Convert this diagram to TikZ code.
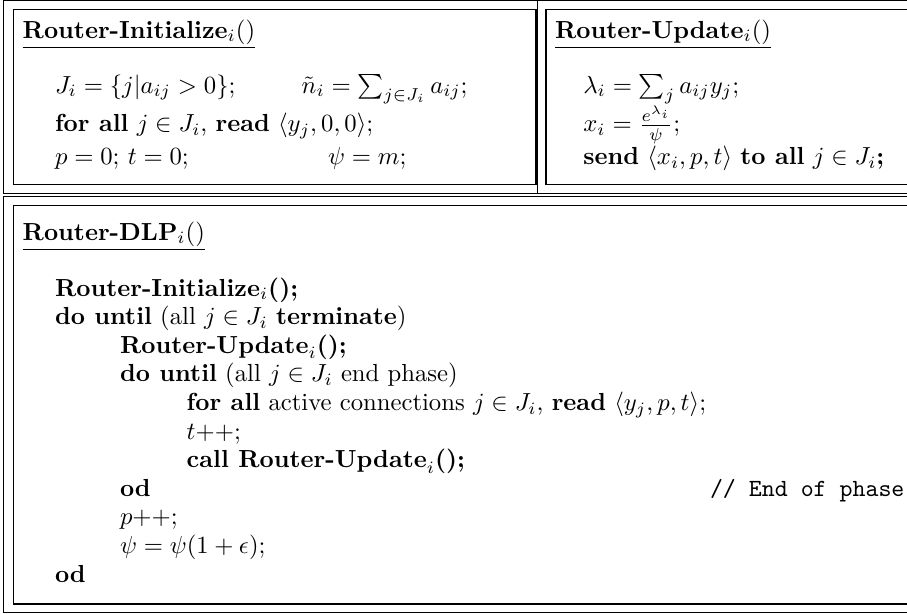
\documentclass[tikz,border=0pt]{standalone}
\usepackage{amsmath}
\begin{document}
\begin{tikzpicture}[x=0.405pt, y=-0.405pt,
  frame/.style={draw=black, line width=0.45pt},
  txt/.style={anchor=base west, inner sep=0pt, outer sep=0pt}]
\clip (0,0) rectangle (907,613);
\useasboundingbox (0,0) rectangle (907,613);

% outer frames
\draw[frame] (3.5,0.6) rectangle (930,193.3);
\draw[frame] (537.7,0.6) -- (537.7,193.3);
\draw[frame] (3.5,196.7) rectangle (930,612.4);
% inner boxes
\draw[frame] (13.3,9.5) rectangle (536,184.3);
\draw[frame] (546,9.5) rectangle (930,184.3);
\draw[frame] (13.3,205.7) rectangle (930,604);

% Router-Initialize
\node[txt] (initT) at (22.7,38) {\underline{\textbf{Router-Initialize}$_i$()}};
\node[txt] (initA) at (55,93) {$J_i=\{j|a_{ij}>0\}$;};
\node[txt] (initB) at (301.7,93) {$\tilde{n}_i=\sum_{j\in J_i}a_{ij}$;};
\node[txt] (initC) at (55,131.5) {\textbf{for all} $j\in J_i$, \textbf{read} $\langle y_j,0,0\rangle$;};
\node[txt] (initD) at (55,164.5) {$p=0$; $t=0$;};
\node[txt] (initE) at (328,164.5) {$\psi=m$;};

% Router-Update
\node[txt] (updT) at (555,38) {\underline{\textbf{Router-Update}$_i$()}};
\node[txt] (updA) at (583.3,93) {$\lambda_i=\sum_j a_{ij}y_j$;};
\node[txt] (updB) at (583.3,131.5) {$x_i=\frac{e^{\lambda_i}}{\psi}$;};
\node[txt] (updC) at (583.3,164.5) {\textbf{send} $\langle x_i,p,t\rangle$ \textbf{to all} $j\in J_i$\textbf{;}};

% Router-DLP
\node[txt] (dlpT) at (22.7,240) {\underline{\textbf{Router-DLP}$_i$()}};
\node[txt] (d1) at (55,296) {\textbf{Router-Initialize}$_i$\textbf{();}};
\node[txt] (d2) at (55,324.6) {\textbf{do until} (all $j\in J_i$ \textbf{terminate})};
\node[txt] (d3) at (120,353.2) {\textbf{Router-Update}\raisebox{-0.8pt}{$_i$}\textbf{();}};
\node[txt] (d4) at (120,381.8) {\textbf{do until} (all $j\in J_i$ end phase)};
\node[txt] (d5) at (186.7,410.4) {\textbf{for all} active connections $j\in J_i$, \textbf{read} $\langle y_j,p,t\rangle$;};
\node[txt] (d6) at (186.7,439) {$t{+}{+}$;};
\node[txt] (d7) at (186.7,467.6) {\textbf{call Router-Update}\raisebox{-0.8pt}{$_i$}\textbf{();}};
\node[txt] (d8) at (120,496.2) {\textbf{od}};
\node[txt] (d8c) at (710,496.2) {\texttt{// End of phase}};
\node[txt] (d9) at (120,524.8) {$p{+}{+}$;};
\node[txt] (d10) at (120,553.4) {$\psi=\psi(1+\epsilon)$;};
\node[txt] (d11) at (55,582) {\textbf{od}};
\end{tikzpicture}
\end{document}
